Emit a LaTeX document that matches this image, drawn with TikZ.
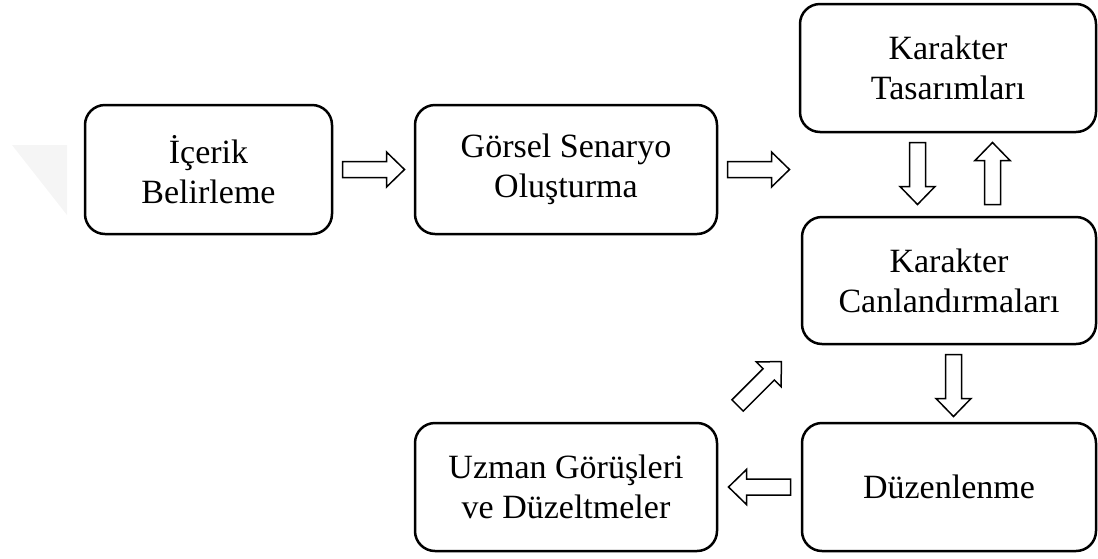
\documentclass[tikz,border=0pt]{standalone}
\usepackage{fontspec}
\setmainfont{Liberation Serif}
\usetikzlibrary{calc}
\newcommand{\BArrow}[2]{%
  \begin{scope}[shift={(#1)},rotate=#2]
    \draw[arrowline] (-31,-8) -- (13,-8) -- (13,-17.5) -- (31,0) -- (13,17.5) -- (13,8) -- (-31,8) -- cycle;
  \end{scope}}
\begin{document}
\begin{tikzpicture}[x=1pt,y=-1pt,
  box/.style={draw=black,line width=2.5pt,rounded corners=20pt,fill=white,align=center,
    inner sep=0pt,font=\fontsize{34}{40}\selectfont},
  arrowline/.style={draw=black,line width=1.5pt,fill=white,line join=miter}]
\useasboundingbox (0,0) rectangle (1098,558);
\fill[gray!8] (12,145) -- (67,145) -- (67,215) -- cycle;
\node[box,minimum width=247pt,minimum height=129pt] (b1) at (208.5,169.5) {İçerik\\Belirleme};
\node[box,minimum width=302pt,minimum height=129pt] (b2) at (566,169.5) {Görsel Senaryo\\Oluşturma};
\node[box,minimum width=296pt,minimum height=128pt] (b3) at (948,68) {Karakter\\Tasarımları};
\node[box,minimum width=294pt,minimum height=127pt] (b4) at (949,280.5) {Karakter\\Canlandırmaları};
\node[box,minimum width=294pt,minimum height=128pt] (b5) at (949,487) {Düzenlenme};
\node[box,minimum width=302pt,minimum height=128pt] (b6) at (566,487) {Uzman Görüşleri\\ve Düzeltmeler};
\BArrow{$(b1.east)!0.5!(b2.west)$}{0}
\BArrow{$(b2.east|-b1.east)!0.5!(b3.west|-b1.east)$}{0}
\BArrow{$(b3.south)!0.5!(b4.north)+(-31,-1)$}{-90}
\BArrow{$(b3.south)!0.5!(b4.north)+(44,-1)$}{90}
\BArrow{$(b4.south)!0.5!(b5.north)+(4.5,2)$}{-90}
\BArrow{$(b5.west)!0.5!(b6.east)$}{180}
\BArrow{$(b6.north east)!0.5!(b4.south west)$}{45}
\end{tikzpicture}
\end{document}
